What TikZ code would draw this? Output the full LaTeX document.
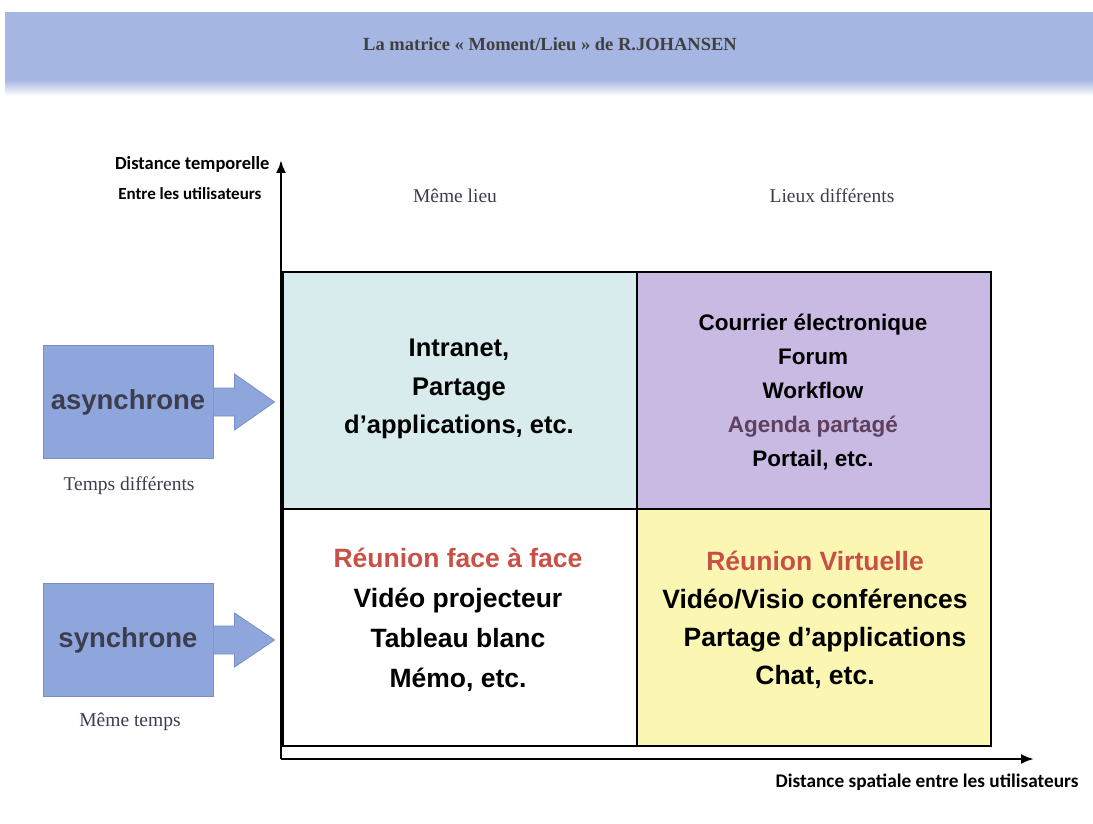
\documentclass[tikz,border=0pt]{standalone}
\usepackage{fontspec}
\setmainfont{Liberation Serif}
\setsansfont{Liberation Sans}
\newfontfamily\carl{Carlito}
\usetikzlibrary{arrows.meta,calc}
\definecolor{band}{RGB}{166,182,226}
\definecolor{boxblue}{RGB}{143,166,220}
\definecolor{boxedge}{RGB}{120,142,200}
\definecolor{cyancell}{RGB}{216,236,238}
\definecolor{lavcell}{RGB}{200,186,226}
\definecolor{yelcell}{RGB}{251,247,178}
\definecolor{redtxt}{RGB}{200,80,70}
\definecolor{purtxt}{RGB}{95,65,95}
\definecolor{greytxt}{RGB}{60,62,80}
\tikzset{
  x=1pt,y=-1pt,
  cell/.style={draw=black,line width=2.4pt,minimum width=354pt,minimum height=237pt,inner sep=0pt},
  celltxt/.style={font=\sffamily\bfseries,align=center,text=black},
  sidebox/.style={draw=boxedge,fill=boxblue,line width=1pt,minimum width=170pt,minimum height=113pt,inner sep=0pt,
    font=\sffamily\bfseries\fontsize{27.5}{30}\selectfont,text=greytxt},
  serif/.style={font=\rmfamily\fontsize{19.5}{22}\selectfont,text=greytxt},
  axlab/.style={font=\carl\bfseries,text=black},
  axis/.style={line width=2.4pt,-{Latex[length=13pt,width=10pt]}},
  blockarrow/.style={draw=boxedge,fill=boxblue,line width=0.8pt}
}
\begin{document}
\begin{tikzpicture}
\useasboundingbox (0,0) rectangle (1093,824);
\fill[white] (0,0) rectangle (1093,824);
% header band
\fill[band] (5,12) rectangle (1093,80);
\shade[top color=band,bottom color=white] (5,79.5) rectangle (1093,96);
\node[font=\rmfamily\bfseries\fontsize{18.5}{20}\selectfont,text=black!75] (title) at (550,44) {La matrice « Moment/Lieu » de R.JOHANSEN};
% cells
\node[cell,fill=cyancell,anchor=north west] (c11) at (282,271) {};
\node[cell,fill=lavcell,anchor=north west] (c12) at (636,271) {};
\node[cell,fill=white,anchor=north west] (c21) at (282,508) {};
\node[cell,fill=yelcell,anchor=north west] (c22) at (636,508) {};
\node[celltxt,font=\sffamily\bfseries\fontsize{25.5}{38.5}\selectfont] (t11) at (459,389) {Intranet,\\Partage\\d'applications, etc.};
\node[celltxt,font=\sffamily\bfseries\fontsize{22.5}{34}\selectfont] (t12) at (813,392) {Courrier électronique\\Forum\\Workflow\\\textcolor{purtxt}{Agenda partagé}\\Portail, etc.};
\node[celltxt,font=\sffamily\bfseries\fontsize{26.5}{40}\selectfont] (t21) at (458,620) {\textcolor{redtxt}{Réunion face à face}\\Vidéo projecteur\\Tableau blanc\\Mémo, etc.};
\node[celltxt,font=\sffamily\bfseries\fontsize{26.5}{38}\selectfont] (t22) at (815,620) {\textcolor{redtxt}{Réunion Virtuelle}\\Vidéo/Visio conférences\\\hspace*{20pt}Partage d'applications\\Chat, etc.};
% axes
\coordinate (origin) at (281,759);
\coordinate (ytop) at (281,160);
\coordinate (xend) at (1034,759);
\draw[axis] (origin) -- (ytop);
\draw[axis] (origin) -- (xend);
\node[axlab,font=\carl\bfseries\fontsize{18.5}{20}\selectfont,anchor=east] (yl1) at (273,164) {Distance temporelle};
\node[axlab,font=\carl\bfseries\fontsize{17}{20}\selectfont,anchor=east] (yl2) at (265,194) {Entre les utilisateurs};
\node[axlab,font=\carl\bfseries\fontsize{19.3}{22}\selectfont,anchor=east] (xl) at (1082,782) {Distance spatiale entre les utilisateurs};
% column labels
\node[serif] (col1) at (455,196) {Même lieu};
\node[serif] (col2) at (832,196) {Lieux différents};
% side boxes
\node[sidebox] (async) at (128,402) {asynchrone};
\node[sidebox] (sync) at (128,640) {synchrone};
\node[serif] (tdiff) at (129,486) {Temps différents};
\node[serif] (mtemps) at (130,722) {Même temps};
% block arrows
\draw[blockarrow] ($(async.east)+(0,-14)$) -- ++(21,0) -- ++(0,-14) -- ++(40,28) -- ++(-40,28) -- ++(0,-14) -- ($(async.east)+(0,14)$);
\draw[blockarrow] ($(sync.east)+(0,-14)$) -- ++(21,0) -- ++(0,-13) -- ++(40,27) -- ++(-40,27) -- ++(0,-13) -- ($(sync.east)+(0,14)$);
\end{tikzpicture}
\end{document}
